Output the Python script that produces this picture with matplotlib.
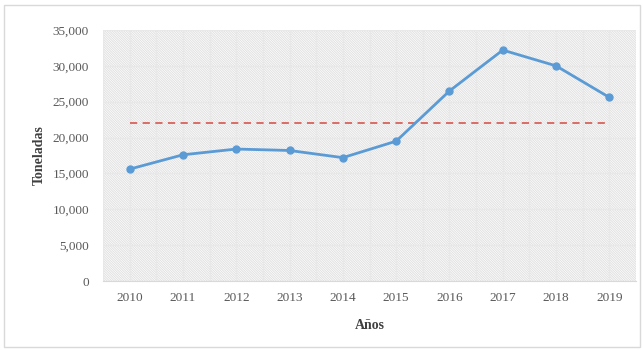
import matplotlib.pyplot as plt
import matplotlib.patches as mpatches
from matplotlib.ticker import FuncFormatter, MultipleLocator

# data
years = [2010, 2011, 2012, 2013, 2014, 2015, 2016, 2017, 2018, 2019]
toneladas = [15600, 17600, 18400, 18200, 17200, 19500, 26500, 32200, 30000, 25600]
promedio = [22000] * len(years)

plt.rcParams['font.family'] = ['Liberation Serif', 'DejaVu Serif']
plt.rcParams['hatch.color'] = '#e0e0e0'
plt.rcParams['hatch.linewidth'] = 0.7

fig = plt.figure(figsize=(6.43, 3.50), dpi=100)
ax = fig.add_axes([103 / 643, 1 - 281 / 350, 533 / 643, 251 / 350])

x = list(range(len(years)))
ax.set_xlim(-0.5, len(years) - 0.5)
ax.set_ylim(0, 35000)

# hatched background
bg = mpatches.Rectangle((0, 0), 1, 1, transform=ax.transAxes, facecolor='white',
                        edgecolor='#e0e0e0', hatch='\\' * 14, linewidth=0, zorder=0)
ax.add_patch(bg)

ax.set_xticks(x)
ax.set_xticklabels([str(y) for y in years])
ax.set_xticks([i - 0.5 for i in range(len(years) + 1)], minor=True)
ax.yaxis.set_major_locator(MultipleLocator(5000))
ax.yaxis.set_major_formatter(FuncFormatter(lambda v, p: f'{int(v):,}'))

ax.grid(True, which='major', color='#e8e8e8', linewidth=1.0, zorder=1)
ax.grid(True, which='minor', axis='x', color='#e8e8e8', linewidth=1.0, zorder=1)
ax.set_axisbelow(True)

ax.plot(x, promedio, color='#d9625c', linestyle=(0, (4, 3)), linewidth=1.3, zorder=3)
ax.plot(x, toneladas, color='#5b9bd5', linewidth=2, marker='o', markersize=5, zorder=4)

for s in ['top', 'right', 'left']:
    ax.spines[s].set_visible(False)
ax.spines['bottom'].set_color('#d9d9d9')
ax.tick_params(which='both', length=0, colors='#595959', labelsize=9.5)
ax.tick_params(axis='x', pad=8)
ax.tick_params(axis='y', pad=10)

ax.set_xlabel('Años', fontsize=10, fontweight='bold', color='#404040', labelpad=11)
ax.set_ylabel('Toneladas', fontsize=10, fontweight='bold', color='#404040')
ax.yaxis.set_label_coords(-0.108, 0.5)

# outer chart border
border = mpatches.Rectangle((4 / 643, 3 / 350), 636 / 643, 342 / 350, transform=fig.transFigure,
                            fill=False, edgecolor='#d9d9d9', linewidth=1)
fig.patches.append(border)

fig.savefig('out.png', dpi=100)
